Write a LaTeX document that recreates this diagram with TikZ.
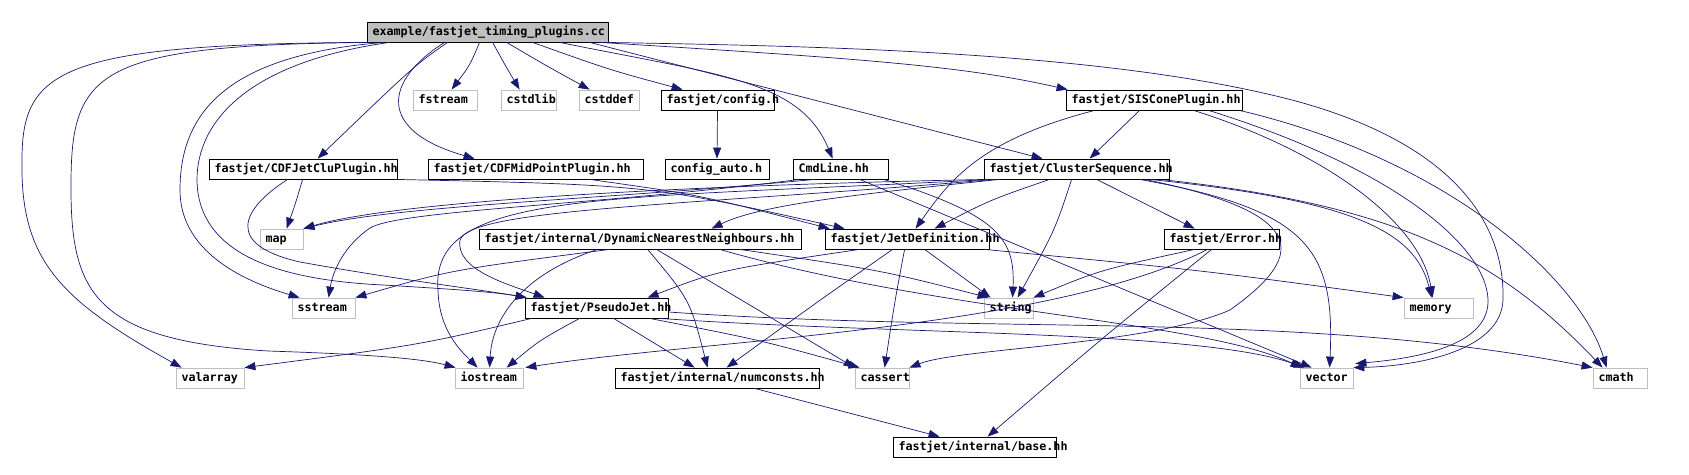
\documentclass[tikz,border=0pt]{standalone}
\usepackage{fontspec}
\setmonofont{DejaVu Sans Mono}
\usetikzlibrary{arrows.meta}
\definecolor{edgeblue}{HTML}{191970}
\definecolor{grayborder}{HTML}{BFBFBF}
\newcommand{\lbx}[2]{\makebox[#1pt][l]{\hspace{5.5pt}#2}}
\begin{document}
\begin{tikzpicture}[x=1pt,y=-1pt,
  box/.style={draw=black, line width=0.8pt, inner sep=0pt, minimum height=20pt,
    text height=9pt, text depth=2.5pt, font=\ttfamily\bfseries\fontsize{11.7}{14}\selectfont},
  sys/.style={box, draw=grayborder},
  rootbox/.style={box, fill=grayborder},
  e/.style={draw=edgeblue, line width=0.7pt, -{Triangle[length=11pt,width=8pt]}}]
\useasboundingbox (0,0) rectangle (1689,474);
% row 1
\node[rootbox] (root) at (487.5,32) {\lbx{241}{example/fastjet\_timing\_plugins.cc}};
% row 2
\node[sys] (fstream) at (445,100) {\lbx{64}{fstream}};
\node[sys] (cstdlib) at (528.5,100) {\lbx{55}{cstdlib}};
\node[sys] (cstddef) at (609,100) {\lbx{60}{cstddef}};
\node[box] (cfg) at (717.5,100) {\lbx{113}{fastjet/config.h}};
\node[box] (sis) at (1154,100) {\lbx{176}{fastjet/SISConePlugin.hh}};
% row 3
\node[box] (clu) at (303,169) {\lbx{188}{fastjet/CDFJetCluPlugin.hh}};
\node[box] (mid) at (535.5,169) {\lbx{215}{fastjet/CDFMidPointPlugin.hh}};
\node[box] (cfgauto) at (717,169) {\lbx{104}{config\_auto.h}};
\node[box] (cmd) at (840.5,169) {\lbx{95}{CmdLine.hh}};
\node[box] (cs) at (1076.5,169) {\lbx{185}{fastjet/ClusterSequence.hh}};
% row 4
\node[sys] (map) at (281.5,239) {\lbx{43}{map}};
\node[box] (dnn) at (640,239) {\lbx{322}{fastjet/internal/DynamicNearestNeighbours.hh}};
\node[box] (jd) at (907,239) {\lbx{164}{fastjet/JetDefinition.hh}};
\node[box] (err) at (1221.5,239) {\lbx{115}{fastjet/Error.hh}};
% row 5
\node[sys] (sstream) at (323.5,308) {\lbx{63}{sstream}};
\node[box] (pj) at (596.5,308) {\lbx{143}{fastjet/PseudoJet.hh}};
\node[sys] (string) at (1008.5,308) {\lbx{49}{string}};
\node[sys] (memory) at (1438.5,308) {\lbx{69}{memory}};
% row 6
\node[sys] (valarray) at (210,378) {\lbx{68}{valarray}};
\node[sys] (iostream) at (489,378) {\lbx{68}{iostream}};
\node[box] (numc) at (717,378) {\lbx{204}{fastjet/internal/numconsts.hh}};
\node[sys] (cassert) at (882,378) {\lbx{54}{cassert}};
\node[sys] (vector) at (1326.5,378) {\lbx{53}{vector}};
\node[sys] (cmath) at (1620,378) {\lbx{54}{cmath}};
% row 7
\node[box] (base) at (974.5,447) {\lbx{163}{fastjet/internal/base.hh}};

% root edges
\draw[e] ([xshift=2pt]root.south west) .. controls (60,44) and (22,70) .. (22,160) .. controls (20,260) and (60,300) .. ([xshift=6pt]valarray.north west);
\draw[e] ([xshift=5pt]root.south west) .. controls (100,45) and (72,70) .. (71,180) .. controls (70,290) and (90,340) .. (268,351) .. controls (360,354) and (420,358) .. ([xshift=1pt]iostream.north west);
\draw[e] ([xshift=17pt]root.south west) .. controls (230,55) and (180,110) .. (180,190) .. controls (180,250) and (240,280) .. ([xshift=8pt]sstream.north west);
\draw[e] ([xshift=23pt]root.south west) .. controls (250,62) and (197,120) .. (197,180) .. controls (198,255) and (280,280) .. (383,285) .. controls (450,289) and (495,292) .. ([xshift=2pt]pj.north west);
\draw[e] ([xshift=81pt]root.south west) .. controls (415,65) .. ([xshift=109pt]clu.north west);
\draw[e] ([xshift=78pt]root.south west) .. controls (385,80) and (375,130) .. ([xshift=47pt]mid.north west);
\draw[e] ([xshift=113pt]root.south west) .. controls (470,65) .. ([xshift=39pt]fstream.north west);
\draw[e] ([xshift=126pt]root.south west) .. controls (505,65) .. ([xshift=19pt]cstdlib.north west);
\draw[e] ([xshift=140pt]root.south west) .. controls (545,65) .. ([xshift=11pt]cstddef.north west);
\draw[e] ([xshift=166pt]root.south west) .. controls (610,70) .. ([xshift=22pt]cfg.north west);
\draw[e] ([xshift=193pt]root.south west) .. controls (720,75) and (800,80) .. ([xshift=40pt]cmd.north west);
\draw[e] ([xshift=223pt]root.south west) -- ([xshift=59pt]cs.north west);
\draw[e] ([xshift=233pt]root.south west) .. controls (850,58) and (960,65) .. ([xshift=2pt]sis.north west);
\draw[e] ([xshift=-3pt]root.south east) .. controls (800,46) and (1100,50) .. (1292,100) .. controls (1450,142) and (1505,220) .. (1503,300) .. controls (1501,350) and (1420,366) .. (vector.north east);
% SISCone edges
\draw[e] ([xshift=29pt]sis.south west) .. controls (980,140) and (950,180) .. ([xshift=91pt]jd.north west);
\draw[e] ([xshift=74pt]sis.south west) -- ([xshift=106pt]cs.north west);
\draw[e] ([xshift=128pt]sis.south west) .. controls (1320,150) and (1420,220) .. ([xshift=29pt]memory.north west);
\draw[e] ([xshift=143pt]sis.south west) .. controls (1400,170) and (1490,250) .. (1488,303) .. controls (1486,345) and (1420,358) .. ([xshift=2pt,yshift=4pt]vector.north east);
\draw[e] ([xshift=-3pt]sis.south east) .. controls (1450,160) and (1580,280) .. ([xshift=14pt]cmath.north west);
% ClusterSequence edges
\draw[e] ([xshift=66pt]cs.south west) .. controls (990,200) .. ([xshift=110pt]jd.north west);
\draw[e] ([xshift=88pt]cs.south west) .. controls (1055,230) .. ([xshift=34pt]string.north west);
\draw[e] ([xshift=113pt]cs.south west) -- ([xshift=31pt]err.north west);
\draw[e] ([xshift=16pt]cs.south west) .. controls (850,195) and (760,205) .. ([xshift=233pt]dnn.north west);
\draw[e] ([xshift=11pt]cs.south west) .. controls (700,205) and (470,208) .. (460,240) .. controls (455,270) and (510,285) .. ([xshift=20pt]pj.north west);
\draw[e] ([xshift=8pt]cs.south west) .. controls (600,200) and (430,190) .. (438,290) .. controls (439,330) and (460,350) .. ([xshift=23pt]iostream.north west);
\draw[e] ([xshift=4pt]cs.south west) .. controls (700,185) and (400,200) .. (map.north east);
\draw[e] ([xshift=166pt]cs.south west) .. controls (1350,200) and (1415,230) .. ([xshift=28pt]memory.north west);
\draw[e] ([xshift=176pt]cs.south west) .. controls (1400,205) and (1500,260) .. ([xshift=10pt]cmath.north west);
\draw[e] ([xshift=156pt]cs.south west) .. controls (1310,210) and (1335,250) .. ([xshift=30pt]vector.north west);
\draw[e] ([xshift=161pt]cs.south west) .. controls (1320,215) and (1300,260) .. (1230,310) .. controls (1150,345) and (960,348) .. (cassert.north east);
% CmdLine edges
\draw[e] ([xshift=22pt]cmd.south west) .. controls (600,200) and (400,205) .. (map.north east);
\draw[e] ([xshift=7pt]cmd.south west) .. controls (600,205) and (400,210) .. (370,228) .. controls (345,245) and (333,270) .. ([xshift=37pt]sstream.north west);
\draw[e] ([xshift=91pt]cmd.south west) .. controls (1000,215) and (1015,240) .. ([xshift=29pt]string.north west);
\draw[e] ([xshift=67pt]cmd.south west) -- ([xshift=12pt]vector.north west);
% DynamicNearestNeighbours edges
\draw[e] ([xshift=131pt]dnn.south west) .. controls (450,270) .. (sstream.north east);
\draw[e] ([xshift=119pt]dnn.south west) .. controls (520,275) and (492,320) .. ([xshift=35pt]iostream.north west);
\draw[e] ([xshift=169pt]dnn.south west) .. controls (690,300) .. ([xshift=93pt]numc.north west);
\draw[e] ([xshift=178pt]dnn.south west) -- (cassert.north west);
\draw[e] ([xshift=261pt]dnn.south west) .. controls (880,270) .. ([xshift=5pt]string.north west);
\draw[e] ([xshift=241pt]dnn.south west) .. controls (950,315) and (1200,320) .. ([xshift=2pt]vector.north west);
% JetDefinition edges
\draw[e] ([xshift=35pt]jd.south west) .. controls (720,270) .. ([xshift=123pt]pj.north west);
\draw[e] ([xshift=68pt]jd.south west) .. controls (820,300) .. ([xshift=112pt]numc.north west);
\draw[e] ([xshift=80pt]jd.south west) .. controls (895,300) .. ([xshift=30pt]cassert.north west);
\draw[e] ([xshift=100pt]jd.south west) -- ([xshift=7pt]string.north west);
\draw[e] ([xshift=160pt]jd.south west) .. controls (1200,270) .. (memory.north west);
% Error edges
\draw[e] ([xshift=31pt]err.south west) .. controls (1100,270) .. (string.north east);
\draw[e] ([xshift=44pt]err.south west) .. controls (1050,330) and (700,340) .. ([xshift=2pt]iostream.north east);
\draw[e] ([xshift=48pt]err.south west) .. controls (1100,340) .. ([xshift=95pt]base.north west);
% PseudoJet edges
\draw[e] ([xshift=7pt]pj.south west) .. controls (420,345) .. (valarray.north east);
\draw[e] ([xshift=55pt]pj.south west) .. controls (540,340) .. ([xshift=52pt]iostream.north west);
\draw[e] ([xshift=89pt]pj.south west) -- ([xshift=80pt]numc.north west);
\draw[e] ([xshift=125pt]pj.south west) .. controls (760,340) .. ([xshift=5pt]cassert.north west);
\draw[e] ([xshift=135pt]pj.south west) .. controls (900,335) and (1200,330) .. ([xshift=5pt]vector.north west);
\draw[e] ([yshift=-4pt]pj.east) .. controls (1000,335) and (1300,310) .. (cmath.north west);
% others
\draw[e] ([xshift=140pt]numc.south west) -- ([xshift=47pt]base.north west);
\draw[e] (cfg.south) -- (cfgauto.north);
\draw[e] ([xshift=94pt]clu.south west) .. controls (295,205) .. ([xshift=27pt]map.north west);
\draw[e] ([xshift=79pt]clu.south west) .. controls (240,210) and (225,245) .. (300,262) .. controls (400,280) and (470,288) .. ([xshift=2pt]pj.north west);
\draw[e] ([xshift=-2pt]clu.south east) .. controls (650,185) .. ([xshift=20pt]jd.north west);
\draw[e] ([xshift=162pt]mid.south west) .. controls (700,195) .. ([xshift=5pt]jd.north west);
\end{tikzpicture}
\end{document}
